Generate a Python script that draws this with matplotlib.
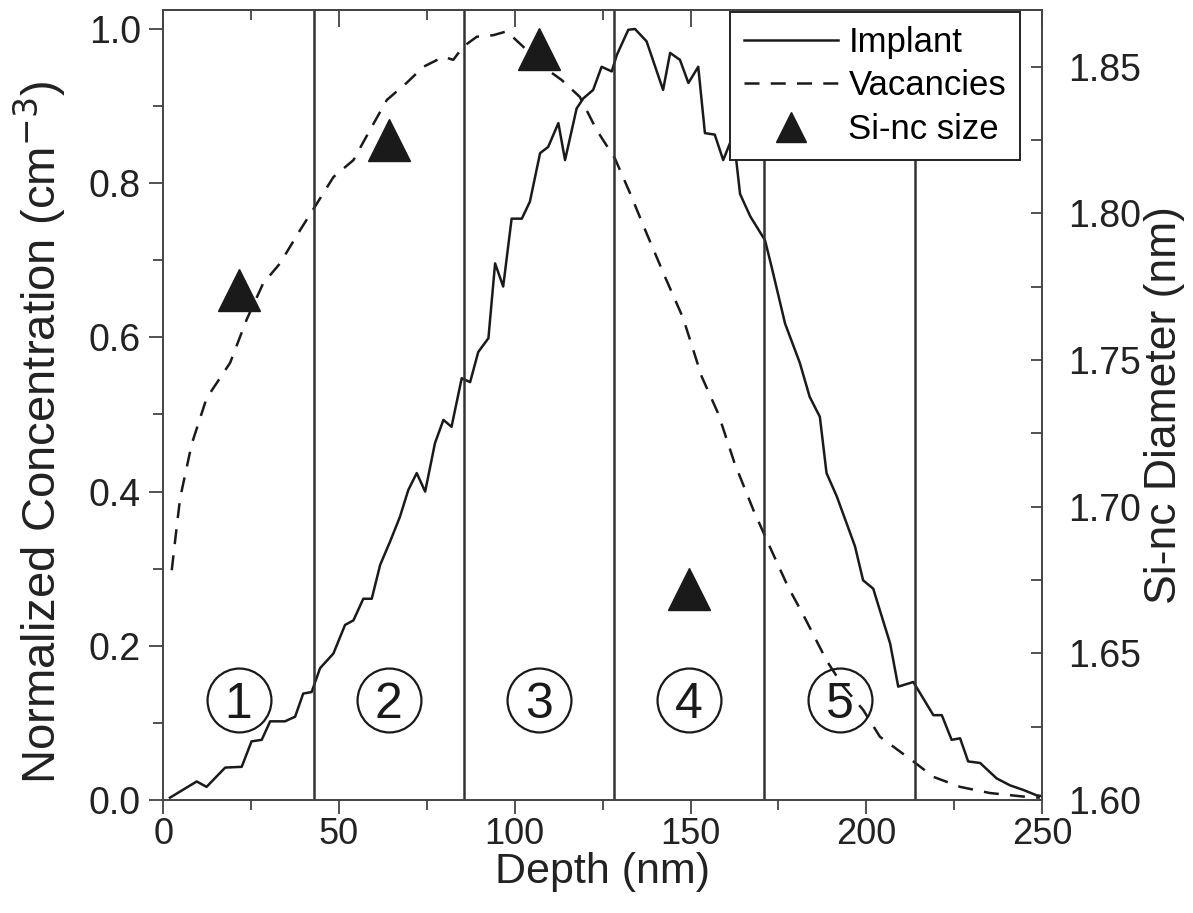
import numpy as np
import matplotlib.pyplot as plt
from matplotlib.lines import Line2D
from matplotlib.ticker import MultipleLocator

# implant profile (normalized)
implant_x = [1.9, 9.5, 12.3, 17.6, 22.3, 25.1, 28.0, 30.4, 34.6, 37.5, 39.8, 42.2, 44.6, 48.4,
             51.7, 54.1, 56.9, 59.3, 61.7, 64.5, 67.3, 69.7, 72.1, 74.5, 77.3, 79.7, 82.0, 84.9,
             87.3, 89.6, 92.5, 94.4, 96.7, 99.1, 102.0, 104.3, 107.2, 109.5, 112.4, 114.3, 117.6,
             119.5, 122.3, 124.7, 127.6, 129.0, 132.3, 134.2, 137.5, 142.2, 144.2, 147.0, 149.4,
             152.2, 154.1, 156.9, 159.3, 162.2, 164.1, 167.0, 171.2, 173.1, 176.9, 181.1, 183.9,
             186.8, 188.7, 191.6, 196.8, 199.1, 202.0, 203.0, 206.8, 209.1, 213.4, 219.1, 221.5,
             224.3, 226.7, 229.0, 232.4, 237.1, 240.9, 244.7, 248.5, 250.0]
implant_y = [0.003, 0.024, 0.017, 0.042, 0.043, 0.076, 0.078, 0.102, 0.102, 0.108, 0.138, 0.140,
             0.171, 0.190, 0.227, 0.233, 0.261, 0.261, 0.305, 0.335, 0.367, 0.402, 0.424, 0.400,
             0.463, 0.493, 0.484, 0.547, 0.542, 0.581, 0.599, 0.696, 0.666, 0.754, 0.754, 0.776,
             0.839, 0.847, 0.878, 0.830, 0.897, 0.910, 0.921, 0.951, 0.945, 0.966, 0.999, 1.000,
             0.984, 0.921, 0.969, 0.960, 0.930, 0.951, 0.865, 0.863, 0.830, 0.863, 0.786, 0.757,
             0.726, 0.691, 0.618, 0.567, 0.523, 0.497, 0.424, 0.394, 0.329, 0.285, 0.274, 0.259,
             0.203, 0.147, 0.153, 0.110, 0.110, 0.078, 0.080, 0.050, 0.048, 0.028, 0.019, 0.013,
             0.006, 0.005]

# vacancy profile (normalized)
vac_x = [2.4, 3.8, 4.8, 8.1, 12.3, 19.0, 23.7, 28.4, 33.2, 38.9, 43.2, 48.4, 54.1, 58.8, 63.6,
         69.2, 74.0, 79.7, 82.5, 85.3, 89.2, 93.9, 97.7, 102.4, 108.1, 113.3, 118.5, 123.3, 128.5,
         132.8, 137.5, 142.7, 147.9, 153.2, 157.9, 162.6, 167.9, 172.6, 177.8, 182.1, 188.7, 193.5,
         199.1, 203.9, 213.4, 219.1, 226.7, 235.2, 245.6, 249.4]
vac_y = [0.298, 0.354, 0.392, 0.462, 0.521, 0.567, 0.623, 0.670, 0.696, 0.739, 0.770, 0.808, 0.830,
         0.869, 0.908, 0.930, 0.951, 0.964, 0.960, 0.977, 0.990, 0.992, 0.997, 0.977, 0.951, 0.934,
         0.912, 0.869, 0.832, 0.787, 0.735, 0.679, 0.625, 0.549, 0.501, 0.436, 0.376, 0.328, 0.276,
         0.240, 0.181, 0.147, 0.117, 0.082, 0.050, 0.030, 0.017, 0.009, 0.004, 0.003]

# Si-nc size per region
size_x = [21.4, 64.1, 106.9, 149.6]
size_d = [1.774, 1.825, 1.856, 1.672]

region_edges = [42.8, 85.5, 128.3, 171.0, 213.8]
region_centres = [21.4, 64.1, 106.9, 149.6, 192.4]
region_labels = ['1', '2', '3', '4', '5']

plt.rcParams['font.family'] = ['Liberation Sans', 'DejaVu Sans']

fig = plt.figure(figsize=(11.93, 9.13), dpi=100)
ax = fig.add_axes([0.1369, 0.1238, 0.7365, 0.8652])
ax2 = ax.twinx()

ax.plot(implant_x, implant_y, color='#1a1a1a', lw=1.8)
ax.plot(vac_x, vac_y, color='#1a1a1a', lw=1.8, dashes=(6, 4.5))
for e in region_edges:
    ax.axvline(e, color='#333333', lw=1.8)
ax.plot(region_centres, [0.13] * len(region_centres), 'o', ms=46, mfc='none',
        mec='#1a1a1a', mew=1.6)
for c, lab in zip(region_centres, region_labels):
    ax.text(c, 0.13, lab, ha='center', va='center_baseline', fontsize=36, color='#1a1a1a')

ax2.plot(size_x, size_d, '^', ms=30, color='#1a1a1a', ls='none')

ax.set_xlim(0, 250)
ax.set_ylim(0, 1.0246)
ax2.set_ylim(1.60, 1.8693)

ax.xaxis.set_major_locator(MultipleLocator(50))
ax.xaxis.set_minor_locator(MultipleLocator(25))
ax.yaxis.set_minor_locator(MultipleLocator(0.1))
ax.set_yticks([0, 0.2, 0.4, 0.6, 0.8, 1.0])
ax.set_yticklabels(['0.0', '0.2', '0.4', '0.6', '0.8', '1.0'])
ax2.yaxis.set_minor_locator(MultipleLocator(0.025))
ax2.set_yticks([1.60, 1.65, 1.70, 1.75, 1.80, 1.85])
ax2.set_yticklabels(['1.60', '1.65', '1.70', '1.75', '1.80', '1.85'])

ax.tick_params(axis='x', which='major', direction='out', length=10, width=1.2,
               labelsize=26, colors='#333333', labelcolor='#222222', pad=2)
ax.tick_params(axis='x', which='minor', direction='out', length=7, width=1.2, colors='#333333')
ax.tick_params(axis='y', which='major', direction='out', length=10, width=1.2,
               labelsize=27, colors='#333333', labelcolor='#222222', pad=6)
ax.tick_params(axis='y', which='minor', direction='out', length=7, width=1.2, colors='#333333')
ax2.tick_params(axis='y', which='both', direction='in', length=8, width=1.2,
                labelsize=27, colors='#333333', labelcolor='#222222', pad=19)

top = ax.secondary_xaxis('top')
top.xaxis.set_major_locator(MultipleLocator(50))
top.xaxis.set_minor_locator(MultipleLocator(25))
top.tick_params(which='major', direction='in', length=12, width=1.2, labeltop=False, colors='#333333')
top.tick_params(which='minor', direction='in', length=7, width=1.2, colors='#333333')
top.set_xticklabels([])

for a in (ax, ax2, top):
    for s in a.spines.values():
        s.set_color('#444444')
        s.set_linewidth(1.2)

ax.set_xlabel('Depth (nm)', fontsize=31, color='#222222', labelpad=0)
ax.set_ylabel('Normalized Concentration (cm$^{-3}$)', fontsize=34, color='#222222')
ax.yaxis.set_label_coords(-0.108, 0.466)
ax2.set_ylabel('Si-nc Diameter (nm)', fontsize=32, color='#222222', labelpad=2)

handles = [Line2D([], [], color='#1a1a1a', lw=1.8),
           Line2D([], [], color='#1a1a1a', lw=1.8, dashes=(6, 4.5)),
           Line2D([], [], marker='^', ms=22, color='#1a1a1a', ls='none')]
leg = ax2.legend(handles, ['Implant', 'Vacancies', 'Si-nc size'], loc='upper right',
                 bbox_to_anchor=(0.975, 0.9975), borderaxespad=0, fontsize=25,
                 handlelength=2.7, handletextpad=0.3, labelspacing=0.3, borderpad=0.4,
                 fancybox=False, framealpha=1, edgecolor='#222222')
leg.get_frame().set_linewidth(1.4)

fig.savefig('out.png', dpi=100)
